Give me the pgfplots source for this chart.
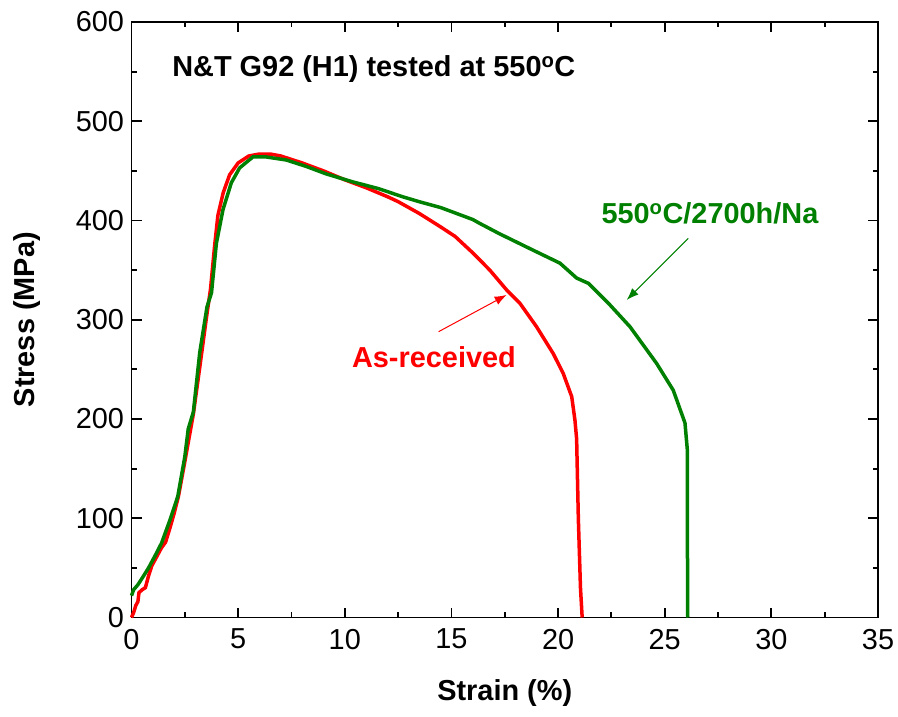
\documentclass[border=0pt]{standalone}
\usepackage{fontspec}
\setmainfont{Liberation Sans}
\usepackage{pgfplots}
\pgfplotsset{compat=1.18}
\usetikzlibrary{arrows.meta}

\definecolor{cred}{RGB}{255,0,0}
\definecolor{cgreen}{RGB}{0,128,0}

\begin{document}
\begin{tikzpicture}
\begin{axis}[
    scale only axis,
    width=746.5bp, height=595.5bp,
    xmin=0, xmax=35, ymin=0, ymax=600,
    xtick distance=5, ytick distance=100,
    minor tick num=1,
    tick align=inside,
    major tick length=10bp, minor tick length=5.5bp,
    axis line style={line width=1.8bp},
    every tick/.style={black, line width=1.8bp},
    /pgf/number format/assume math mode=true,
    tick label style={font=\fontsize{29}{34}\selectfont},
    xticklabel style={yshift=-8bp},
    yticklabel style={xshift=-4bp},
    label style={font=\fontsize{29}{34}\selectfont\bfseries},
    xlabel={Strain (\%)},
    ylabel={Stress (MPa)},
    xlabel style={at={(axis description cs:0.5,-0.126)}, anchor=center},
    ylabel style={at={(axis description cs:-0.14,0.5)}, anchor=center},
    clip=false,
]

% As-received
\addplot[cred, line width=3.5bp] coordinates {
    (0,0) (0.1,5) (0.2,12) (0.3,16) (0.35,25) (0.5,28) (0.65,30) (0.8,42)
    (0.95,52) (1.2,62) (1.4,70) (1.6,76) (1.8,90) (2.0,105) (2.2,122)
    (2.5,157) (2.9,205) (3.2,252) (3.5,300) (3.7,330) (3.9,375) (4.05,405)
    (4.3,428) (4.6,446) (5.0,458) (5.5,465) (6.0,467) (6.5,467) (7.0,465)
    (8.0,458) (9.0,450) (10.0,441) (11.0,433) (12.0,424) (12.5,419)
    (13.5,407) (14.46,394) (15.17,384) (16.02,367) (16.8,350) (17.59,330)
    (18.21,316.6) (18.99,293) (19.77,266) (20.24,246) (20.64,222.5)
    (20.79,199) (20.87,180) (20.95,100) (21.05,30) (21.13,0)
};

% 550C/2700h/Na
\addplot[cgreen, line width=3.5bp] coordinates {
    (0,22) (0.1,28) (0.3,33) (0.54,41) (0.8,50) (1.1,62) (1.41,75)
    (1.8,98) (2.17,122) (2.5,162) (2.66,190) (2.9,207) (3.2,267)
    (3.54,313) (3.75,327) (3.98,377) (4.29,411) (4.68,438) (5.07,453)
    (5.69,464) (6.32,464) (7.25,461) (8.19,454.5) (9.12,447) (10.36,439)
    (11.6,432) (12.7,424) (13.48,419) (14.5,413) (15.5,405) (16.0,401)
    (16.29,397.5) (17.22,387) (18.78,370.6) (20.09,357) (20.87,342)
    (21.42,336.7) (22.43,315) (23.37,293) (24.62,256) (25.4,229)
    (25.95,196) (26.06,169) (26.06,100) (26.08,0)
};

\node[anchor=west, font=\fontsize{29}{34}\selectfont\bfseries]
    at (axis cs:1.75,553) {N\&T G92 (H1) tested at 550\textsuperscript{o}C};
\node[cred, font=\fontsize{29}{34}\selectfont\bfseries]
    at (axis cs:14.18,262.5) {As-received};
\node[cgreen, font=\fontsize{29}{34}\selectfont\bfseries]
    at (axis cs:27.12,407.6) {550\textsuperscript{o}C/2700h/Na};
\draw[cred, line width=1bp, -{Latex[length=12bp,width=9bp]}]
    (axis cs:14.4,288) -- (axis cs:17.59,325);
\draw[cgreen, line width=1bp, -{Latex[length=12bp,width=9bp]}]
    (axis cs:26.1,382) -- (axis cs:23.22,320);
\end{axis}
\pgfresetboundingbox
\path (current axis.south west) ++(-131.5bp,-99.5bp) rectangle ++(898bp,717bp);
\end{tikzpicture}
\end{document}
